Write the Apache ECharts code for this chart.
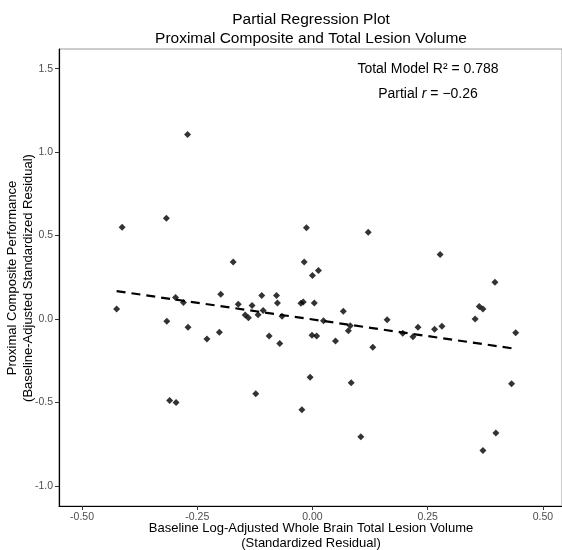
<!DOCTYPE html>
<html>
<head>
<meta charset="utf-8">
<script src="https://cdn.jsdelivr.net/npm/echarts@6/dist/echarts.min.js"></script>
<style>
  html, body { margin: 0; padding: 0; background: #fff; }
  #chart { width: 562px; height: 550px; }
</style>
</head>
<body>
<div id="chart"></div>
<script>
// residuals
var xResid = [
  -0.271, -0.413, -0.317, -0.172, -0.013, -0.018, 0.013, 0.000, -0.425, -0.297,
  -0.280, -0.199, -0.161, -0.131, -0.146, -0.139, -0.316, -0.270, -0.229, -0.202,
  -0.110, -0.078, -0.118, -0.107, -0.076, -0.066, -0.025, -0.020, 0.004, -0.094,
  -0.071, -0.001, 0.009, 0.067, 0.082, 0.078, 0.024, 0.050, 0.131, 0.162,
  0.196, 0.218, 0.229, 0.265, 0.281, 0.277, 0.353, 0.362, 0.370, 0.396,
  0.441, 0.432, 0.398, 0.370, 0.105, 0.084, -0.005, -0.023, 0.121, -0.310,
  -0.296, -0.123
];
var yResid = [
  1.106, 0.550, 0.604, 0.341, 0.546, 0.341, 0.291, 0.260, 0.059, 0.128,
  0.098, 0.148, 0.088, 0.080, 0.023, 0.008, -0.014, -0.050, -0.120, -0.080,
  0.140, 0.140, 0.025, 0.050, 0.095, 0.016, 0.094, 0.101, 0.095, -0.102,
  -0.147, -0.098, -0.102, 0.046, -0.040, -0.070, -0.010, -0.132, -0.170, -0.004,
  -0.086, -0.107, -0.050, -0.062, -0.044, 0.386, 0.000, 0.074, 0.060, 0.220,
  -0.082, -0.388, -0.684, -0.788, -0.706, -0.382, -0.350, -0.544, 0.520, -0.488,
  -0.500, -0.448
];
// fitted line ends
var fitX = [-0.425, 0.441];
var fitY = [0.167, -0.179];

var xTicks = [-0.5, -0.25, 0, 0.25, 0.5];
var yTicks = [-1.0, -0.5, 0, 0.5, 1.0, 1.5];

var font = "'Liberation Sans', Arial, Helvetica, sans-serif";

var chart = echarts.init(document.getElementById('chart'));

var points = xResid.map(function (x, i) { return [x, yResid[i]]; });
var fitLine = fitX.map(function (x, i) { return [x, fitY[i]]; });

var option = {
  animation: false,
  backgroundColor: '#fff',
  grid: {
    left: 59, right: 0, top: 49, bottom: 44,
    show: true, borderColor: '#9a9a9a', borderWidth: 1
  },
  xAxis: {
    type: 'value',
    min: -0.55, max: 0.5415,
    axisLine: { onZero: false, lineStyle: { color: '#000', width: 1.2 } },
    axisTick: { customValues: xTicks, length: 4, lineStyle: { color: '#333' } },
    axisLabel: {
      customValues: xTicks, margin: 6, fontSize: 10.5, color: '#4d4d4d', fontFamily: font,
      formatter: function (v) { return v.toFixed(2); }
    },
    splitLine: { show: false }
  },
  yAxis: {
    type: 'value',
    min: -1.121, max: 1.618,
    axisLine: { show: true, onZero: false, lineStyle: { color: '#000', width: 1.2 } },
    axisTick: { show: true, customValues: yTicks, length: 4, lineStyle: { color: '#333' } },
    axisLabel: {
      customValues: yTicks, margin: 6, fontSize: 10.5, color: '#4d4d4d', fontFamily: font,
      formatter: function (v) { return v.toFixed(1); }
    },
    splitLine: { show: false }
  },
  graphic: [
    { type: 'text', x: 311, y: 20, style: { text: 'Partial Regression Plot', font: '15.5px ' + font, fill: '#000', align: 'center', verticalAlign: 'middle' } },
    { type: 'text', x: 311, y: 39, style: { text: 'Proximal Composite and Total Lesion Volume', font: '15.5px ' + font, fill: '#000', align: 'center', verticalAlign: 'middle' } },
    { type: 'text', x: 428, y: 69, style: { text: 'Total Model R² = 0.788', font: '14px ' + font, fill: '#000', align: 'center', verticalAlign: 'middle' } },
    {
      type: 'text', x: 428, y: 94,
      style: {
        text: '{a|Partial }{i|r}{a| = −0.26}',
        align: 'center', verticalAlign: 'middle',
        rich: {
          a: { fontSize: 14, fontFamily: font, color: '#000' },
          i: { fontSize: 14, fontFamily: font, fontStyle: 'italic', color: '#000' }
        }
      }
    },
    { type: 'text', x: 311, y: 528, style: { text: 'Baseline Log-Adjusted Whole Brain Total Lesion Volume', font: '13px ' + font, fill: '#000', align: 'center', verticalAlign: 'middle' } },
    { type: 'text', x: 311, y: 543, style: { text: '(Standardized Residual)', font: '13px ' + font, fill: '#000', align: 'center', verticalAlign: 'middle' } },
    { type: 'text', x: 12, y: 278, rotation: Math.PI / 2, style: { text: 'Proximal Composite Performance', font: '13px ' + font, fill: '#000', align: 'center', verticalAlign: 'middle' } },
    { type: 'text', x: 28, y: 278, rotation: Math.PI / 2, style: { text: '(Baseline-Adjusted Standardized Residual)', font: '13px ' + font, fill: '#000', align: 'center', verticalAlign: 'middle' } }
  ],
  series: [
    {
      type: 'line',
      data: fitLine,
      showSymbol: false,
      silent: true,
      lineStyle: { color: '#000', width: 2.2, type: [9, 6] },
      z: 3
    },
    {
      type: 'scatter',
      data: points,
      symbol: 'diamond',
      symbolSize: 7,
      itemStyle: { color: '#000' },
      z: 4
    }
  ]
};
chart.setOption(option);
</script>
</body>
</html>
